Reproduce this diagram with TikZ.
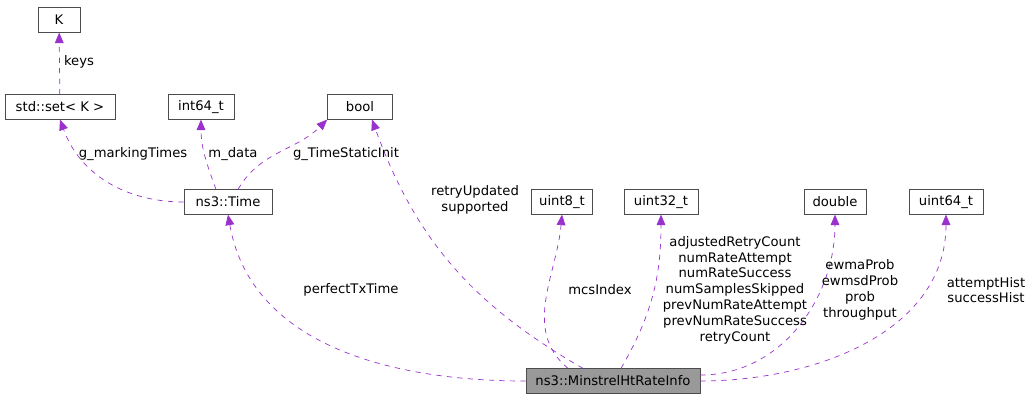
\documentclass[tikz,border=0pt]{standalone}
\usepackage{fontspec}
\setmainfont{DejaVu Sans}
\usetikzlibrary{positioning}
\usetikzlibrary{calc}
\usetikzlibrary{arrows.meta}

\definecolor{edgepurple}{RGB}{153,50,204}
\definecolor{boxgray}{RGB}{153,153,153}

\tikzset{
  cls/.style={draw=black!70,fill=white,font=\fontsize{7.5}{8}\selectfont,
    minimum height=0.49cm,inner xsep=4pt,inner ysep=0pt},
  mainbox/.style={cls,fill=boxgray},
  usage/.style={draw=edgepurple,dashed,-{Triangle[length=6pt,width=5pt]},thin},
  lbl/.style={font=\fontsize{7.5}{9}\selectfont,align=center,inner sep=1pt}
}

\begin{document}
\begin{tikzpicture}[x=0.02cm,y=-0.02cm]
\useasboundingbox (0,0) rectangle (1036,400);

%klasy
\node[cls,minimum width=0.84cm] (k) at (59,20) {K};
\node[cls,minimum width=2.2cm] (set) at (60,107) {std::set< K >};
\node[cls,minimum width=1.32cm] (int) at (201,107) {int64\_t};
\node[cls,minimum width=1.3cm] (bool) at (360,107) {bool};
\node[cls,minimum width=1.76cm] (time) at (228,202) {ns3::Time};
\node[cls,minimum width=1.22cm] (u8) at (562,202) {uint8\_t};
\node[cls,minimum width=1.48cm] (u32) at (661,202) {uint32\_t};
\node[cls,minimum width=1.24cm] (dbl) at (835,202) {double};
\node[cls,minimum width=1.48cm] (u64) at (946,202) {uint64\_t};
\node[mainbox,minimum width=3.48cm] (info) at (613,381) {ns3::MinstrelHtRateInfo};

%krawedzie
\draw[usage] (set) -- (k);
\draw[usage] (time.west) to[out=180,in=-70] (set.south);
\draw[usage] ($(time.north)+(-12,0)$) to[out=110,in=-90] (int.south);
\draw[usage] ($(time.north)+(10,0)$) to[out=60,in=-135] (bool.south west);
\draw[usage] ($(info.north)+(-30,0)$) to[out=150,in=-70] ($(bool.south)+(12,0)$);
\draw[usage] (info.west) to[out=180,in=-80] (time.south);
\draw[usage] ($(info.north)+(-45,0)$) to[out=140,in=-95] (u8.south);
\draw[usage] ($(info.north)+(8,0)$) to[out=60,in=-90] (u32.south);
\draw[usage] ($(info.east)+(0,-6)$) to[out=0,in=-90] (dbl.south);
\draw[usage] ($(info.east)+(0,0)$) to[out=0,in=-90] (u64.south);

%etykiety
\node[lbl] at (79,62) {keys};
\node[lbl] at (133,154) {g\_markingTimes};
\node[lbl] at (233,154) {m\_data};
\node[lbl] at (346,154) {g\_TimeStaticInit};
\node[lbl] at (475,200) {retryUpdated\\supported};
\node[lbl] at (351,290) {perfectTxTime};
\node[lbl] at (600,290) {mcsIndex};
\node[lbl] at (735,290) {adjustedRetryCount\\numRateAttempt\\numRateSuccess\\numSamplesSkipped\\prevNumRateAttempt\\prevNumRateSuccess\\retryCount};
\node[lbl] at (860,290) {ewmaProb\\ewmsdProb\\prob\\throughput};
\node[lbl] at (986,290) {attemptHist\\successHist};
\end{tikzpicture}
\end{document}
